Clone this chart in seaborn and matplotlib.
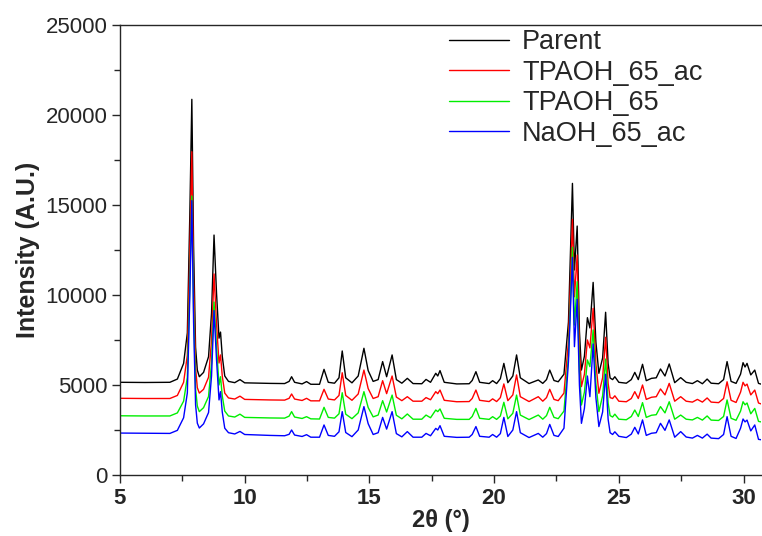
import numpy as np
import pandas as pd
import matplotlib
matplotlib.use("Agg")
import matplotlib.pyplot as plt
import seaborn as sns
from matplotlib.ticker import MultipleLocator

# feature points (2theta, deg)
two_theta = [
    5.00, 6.00, 7.00, 7.30, 7.55, 7.70, 7.80, 7.88, 7.95, 8.03,
    8.10, 8.18, 8.35, 8.55, 8.67, 8.77, 8.87, 8.97, 9.03, 9.10,
    9.20, 9.35, 9.60, 9.81, 10.00, 11.00, 11.60, 11.78, 11.88, 12.00,
    12.30, 12.48, 12.65, 13.00, 13.18, 13.35, 13.60, 13.78, 13.91, 14.05,
    14.30, 14.55, 14.78, 14.95, 15.15, 15.35, 15.53, 15.69, 15.91, 16.08,
    16.30, 16.52, 16.75, 17.10, 17.27, 17.45, 17.66, 17.74, 17.83, 18.00,
    18.50, 19.00, 19.12, 19.27, 19.42, 19.80, 19.94, 20.10, 20.25, 20.39,
    20.55, 20.75, 20.90, 21.05, 21.40, 21.77, 21.95, 22.10, 22.23, 22.40,
    22.57, 22.80, 22.98, 23.14, 23.22, 23.33, 23.42, 23.50, 23.62, 23.74,
    23.84, 23.97, 24.08, 24.20, 24.35, 24.47, 24.57, 24.65, 24.75, 24.84,
    25.00, 25.30, 25.50, 25.64, 25.78, 25.95, 26.10, 26.31, 26.50, 26.67,
    26.85, 27.02, 27.24, 27.48, 27.70, 27.95, 28.15, 28.35, 28.54, 28.70,
    29.00, 29.20, 29.34, 29.50, 29.70, 29.88, 29.98, 30.06, 30.14, 30.29,
    30.45, 30.60, 30.70,
]

parent = [
    5150, 5140, 5150, 5330, 6200, 7900, 14500, 20870, 12700, 7100,
    5830, 5460, 5700, 6570, 9000, 13330, 10100, 7600, 7940, 6600,
    5500, 5200, 5130, 5300, 5120, 5090, 5080, 5200, 5460, 5150,
    5060, 5190, 5040, 5040, 5870, 5150, 5100, 5400, 6890, 5400,
    5120, 5500, 7040, 5800, 5200, 5300, 6300, 5460, 6670, 5300,
    5100, 5370, 5080, 5070, 5310, 5150, 5650, 5500, 5800, 5150,
    5060, 5070, 5250, 5740, 5150, 5080, 5240, 5080, 5350, 6200,
    5130, 5500, 6670, 5400, 5080, 5280, 5090, 5300, 5830, 5250,
    5180, 5600, 8500, 16200, 11390, 13830, 8000, 5830, 6600, 8740,
    8170, 10700, 7400, 5650, 6500, 9040, 6200, 5390, 5300, 5460,
    5150, 5100, 5300, 5700, 5300, 6150, 5240, 5370, 5400, 5890,
    5500, 6170, 5130, 5410, 5150, 5080, 5240, 5070, 5330, 5100,
    5070, 5300, 6300, 5200, 5090, 5600, 6240, 6000, 6200, 5560,
    5830, 5090, 5050,
]

tpaoh_65_ac = [
    4260, 4250, 4250, 4420, 5150, 6650, 12400, 17960, 10800, 5950,
    4850, 4550, 4760, 5430, 7480, 11170, 8400, 6220, 6670, 5500,
    4550, 4280, 4220, 4380, 4200, 4170, 4160, 4260, 4500, 4220,
    4140, 4260, 4120, 4120, 4760, 4220, 4170, 4420, 5680, 4420,
    4150, 4500, 5830, 4800, 4250, 4350, 5240, 4520, 5500, 4330,
    4130, 4350, 4100, 4100, 4300, 4180, 4630, 4520, 4720, 4150,
    4070, 4080, 4250, 4720, 4150, 4080, 4230, 4080, 4300, 5060,
    4130, 4450, 5560, 4350, 4080, 4350, 4100, 4300, 4760, 4200,
    4130, 4550, 7400, 14200, 9900, 12220, 6900, 4910, 5600, 7500,
    7060, 9260, 6200, 4540, 5400, 7650, 5100, 4300, 4250, 4400,
    4100, 4070, 4250, 4630, 4250, 5000, 4200, 4320, 4350, 4780,
    4450, 5090, 4100, 4350, 4100, 4050, 4200, 4050, 4280, 4050,
    4020, 4250, 5180, 4150, 4030, 4600, 5150, 4950, 5050, 4450,
    4720, 4000, 3950,
]

tpaoh_65 = [
    3290, 3280, 3280, 3450, 4100, 5430, 10600, 15500, 9200, 4800,
    3830, 3520, 3740, 4360, 6240, 9610, 7100, 5000, 5460, 4400,
    3550, 3280, 3220, 3380, 3200, 3170, 3160, 3270, 3520, 3220,
    3140, 3240, 3120, 3110, 3760, 3200, 3160, 3400, 4570, 3380,
    3130, 3450, 4630, 3750, 3230, 3330, 4130, 3500, 4440, 3320,
    3120, 3390, 3100, 3100, 3330, 3180, 3610, 3520, 3670, 3150,
    3090, 3090, 3250, 3700, 3150, 3090, 3240, 3090, 3280, 4040,
    3120, 3430, 4440, 3330, 3080, 3330, 3100, 3300, 3760, 3200,
    3130, 3550, 6600, 12650, 8330, 10740, 5800, 3890, 4600, 6390,
    6020, 8060, 5100, 3520, 4400, 6440, 4000, 3300, 3220, 3380,
    3100, 3070, 3250, 3610, 3250, 4020, 3200, 3320, 3350, 3800,
    3450, 4070, 3100, 3330, 3100, 3060, 3200, 3050, 3280, 3050,
    3030, 3250, 4170, 3150, 3040, 3550, 4070, 3900, 4000, 3400,
    3700, 2980, 2950,
]

naoh_65_ac = [
    2330, 2320, 2310, 2480, 3180, 4560, 10000, 15240, 8500, 3900,
    2880, 2610, 2840, 3470, 5510, 9130, 6400, 4170, 4630, 3500,
    2600, 2350, 2280, 2420, 2250, 2200, 2180, 2260, 2500, 2220,
    2140, 2240, 2100, 2100, 2780, 2200, 2150, 2400, 3520, 2360,
    2130, 2500, 3800, 2850, 2250, 2350, 3200, 2550, 3520, 2300,
    2120, 2410, 2100, 2100, 2310, 2180, 2590, 2500, 2740, 2150,
    2090, 2100, 2250, 2690, 2150, 2100, 2250, 2100, 2300, 3200,
    2140, 2500, 3520, 2350, 2080, 2310, 2100, 2300, 2810, 2200,
    2140, 2600, 6300, 12090, 7130, 9760, 5000, 2870, 3700, 5500,
    4350, 7280, 4300, 2690, 3500, 5600, 3100, 2350, 2250, 2400,
    2150, 2080, 2270, 2650, 2280, 3060, 2200, 2320, 2350, 2870,
    2480, 3060, 2100, 2410, 2110, 2050, 2200, 2050, 2270, 2050,
    2020, 2250, 3240, 2150, 2030, 2600, 3110, 2950, 3050, 2450,
    2780, 1980, 1960,
]

sample_names = ["Parent", "TPAOH_65_ac", "TPAOH_65", "NaOH_65_ac"]
line_colors = ["#000000", "#ff0000", "#00ee00", "#0000ff"]

frames = []
for name, vals in zip(sample_names, [parent, tpaoh_65_ac, tpaoh_65, naoh_65_ac]):
    frames.append(pd.DataFrame({"2theta": two_theta, "Intensity": vals, "Sample": name}))
df = pd.concat(frames, ignore_index=True)

sns.set_style("ticks")
plt.rcParams["font.family"] = ["Liberation Sans", "DejaVu Sans"]

fig = plt.figure(figsize=(7.62, 5.36), dpi=100)
ax = fig.add_axes([120 / 762, 1 - 475 / 536, 641 / 762, 450 / 536])

sns.lineplot(data=df, x="2theta", y="Intensity", hue="Sample",
             hue_order=sample_names, palette=line_colors,
             sort=False, estimator=None, linewidth=1.0, ax=ax)

ax.set_xlim(5, 30.7)
ax.set_ylim(0, 25000)
ax.xaxis.set_major_locator(MultipleLocator(5))
ax.xaxis.set_minor_locator(MultipleLocator(2.5))
ax.yaxis.set_major_locator(MultipleLocator(5000))
ax.yaxis.set_minor_locator(MultipleLocator(2500))
ax.tick_params(which="major", direction="out", length=6, width=1, labelsize=16, pad=3)
ax.tick_params(which="minor", direction="out", length=4, width=1)
ax.tick_params(top=False, right=False)
for lab in ax.get_xticklabels():
    lab.set_fontweight("bold")
for s in ["left", "bottom", "top"]:
    ax.spines[s].set_linewidth(1.0)
ax.spines["right"].set_visible(False)
ax.spines["top"].set_visible(True)

ax.set_xlabel("2θ (°)", fontsize=17, fontweight="bold", labelpad=0)
ax.set_ylabel("Intensity (A.U.)", fontsize=18, fontweight="bold", labelpad=4)

ax.legend(loc="upper left", bbox_to_anchor=(449 / 762, 1 - 29 / 536),
          bbox_transform=fig.transFigure, frameon=False, fontsize=19.5,
          handlelength=2.2, handletextpad=0.5, labelspacing=0.17,
          borderpad=0, borderaxespad=0)
for h in ax.get_legend().get_lines():
    h.set_linewidth(1.0)

fig.savefig("out.png", dpi=100)
